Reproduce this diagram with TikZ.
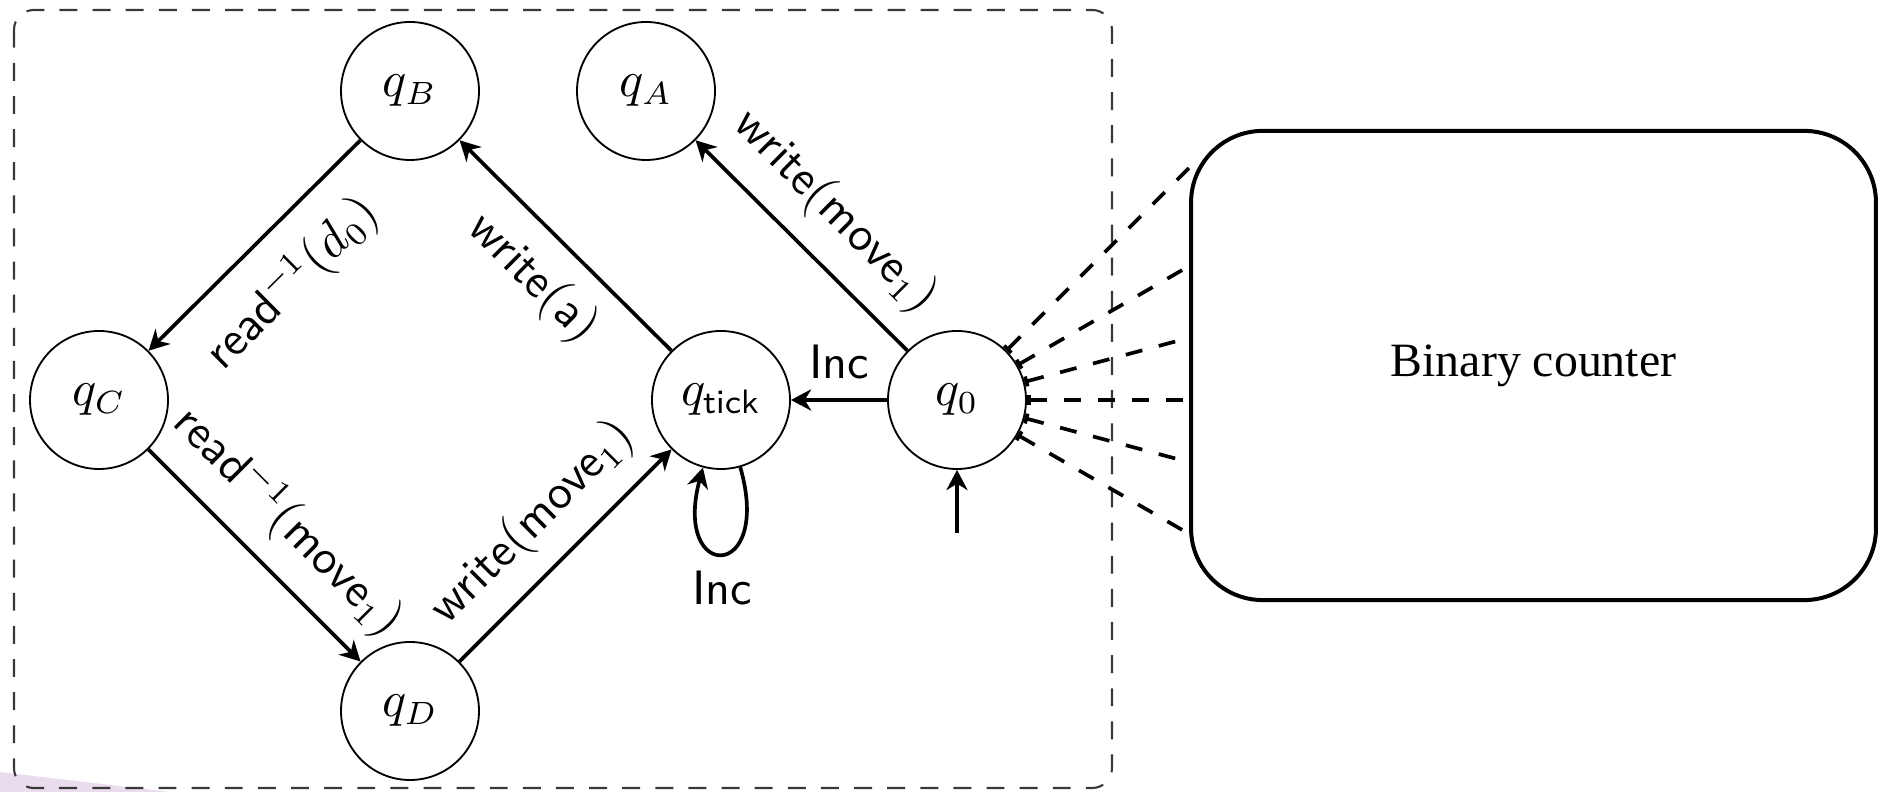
\documentclass[tikz,border=0pt]{standalone}
\usepackage{fontspec}
\newfontfamily\timesfont{Liberation Serif}
\newcommand\lblsize{\fontsize{10.5pt}{12.6pt}\selectfont}
\usetikzlibrary{arrows.meta}
\definecolor{lavender}{RGB}{233,220,236}
\begin{document}
\begin{tikzpicture}[x=0.21739pt, y=0.21739pt,
  state/.style={draw, circle, line width=0.4pt, minimum size=30pt, inner sep=0pt,
    font=\lblsize},
  edge/.style={line width=0.8pt, -{Stealth[length=4.4pt,width=4.6pt,inset=1.4pt]}},
  lbl/.style={font=\lblsize\sffamily, sloped},
  plain/.style={font=\lblsize\sffamily},
  wire/.style={line width=0.8pt, dash pattern=on 3.7pt off 3.7pt,
    {Bar[width=2.2pt,line width=0.8pt]}-},
  frame/.style={draw=black!78, line width=0.45pt, dash pattern=on 3.9pt off 3.3pt,
    rounded corners=4.3pt},
  counter/.style={draw, line width=0.87pt, rounded corners=15.6pt,
    minimum width=148.9pt, minimum height=102pt,
    font=\timesfont\fontsize{10.4pt}{12pt}\selectfont}
]
\useasboundingbox (0,0) rectangle (1886,792);

% faint tint in the lower left corner
\fill[lavender] (0,20) -- (170,0) -- (0,0) -- cycle;

% dashed frame around the automaton
\draw[frame] (14,782) rectangle (1112,4);

% states
\node[state] (qB) at (410,701) {$q_B$};
\node[state] (qA) at (646,701) {$q_A$};
\node[state] (qC) at (99,392) {$q_C$};
\node[state] (qtick) at (721,392) {$q_{\mathsf{tick}}$};
\node[state] (q0) at (957,392) {$q_0$};
\node[state] (qD) at (410,81) {$q_D$};

% counter box
\node[counter] (bc) at (1533.5,426.5) {Binary counter};

% transitions
\draw[edge] (qB) -- node[lbl, below=2.4pt] {read$^{-1}(d_0)$} (qC);
\draw[edge] (qtick) -- node[lbl, below=0.9pt] {write$(\mathsf{a})$} (qB);
\draw[edge] (q0) -- node[lbl, above=1.2pt] {write$(\mathsf{move}_1)$} (qA);
\draw[edge] (qC) -- node[lbl, above=0.9pt] {read$^{-1}(\mathsf{move}_1)$} (qD);
\draw[edge] (qD) -- node[lbl, above=0.9pt] {write$(\mathsf{move}_1)$} (qtick);
\draw[edge] (q0) -- node[plain, above=0.8pt] {Inc} (qtick);
\draw[edge] (qtick.-74) .. controls +(-74:26pt) and +(-105:26pt)
  .. node[plain, below] {Inc} (qtick.-105);

% initial arrow
\coordinate (init) at (957,259);
\draw[edge] (init) -- (q0);

% wires to the counter
\coordinate (w1) at (1191,626);
\coordinate (w2) at (1191,527);
\coordinate (w3) at (1191,454.7);
\coordinate (w4) at (1191,392);
\coordinate (w5) at (1191,329.3);
\coordinate (w6) at (1191,257);
\foreach \w in {w1,w2,w3,w4,w5,w6}
  \draw[wire] (q0) -- (\w);
\end{tikzpicture}
\end{document}
